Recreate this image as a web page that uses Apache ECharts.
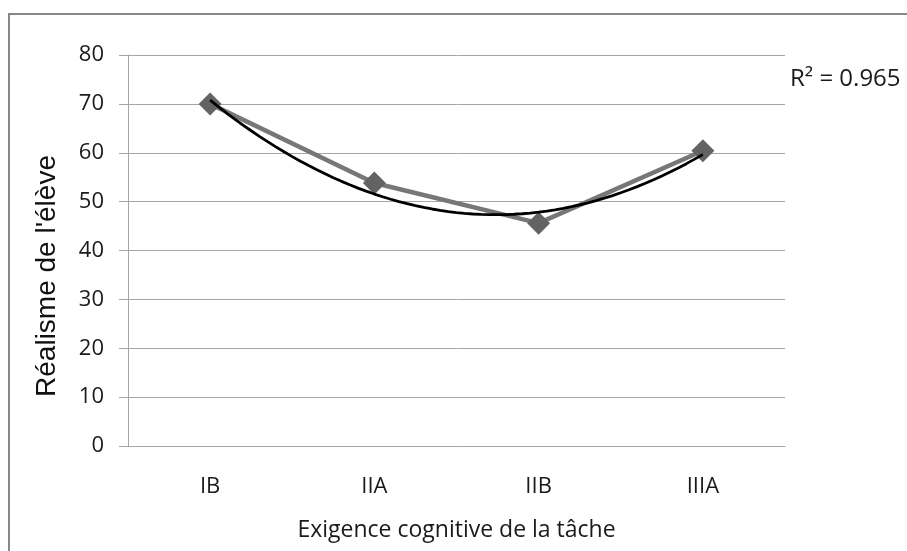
<!DOCTYPE html>
<html>
<head>
<meta charset="utf-8">
<script src="https://cdn.jsdelivr.net/npm/echarts@6/dist/echarts.min.js"></script>
<style>
  html, body { margin: 0; padding: 0; background: #fff; }
  #chart { width: 907px; height: 551px; }
</style>
</head>
<body>
<div id="chart"></div>
<script>
// Task levels and the pupil's realism score at each level
const categories = ['IB', 'IIA', 'IIB', 'IIIA'];
const realism = [70.0, 53.8, 45.6, 60.4];
const yTicks = [0, 10, 20, 30, 40, 50, 60, 70, 80];

// Second-order polynomial least-squares fit of the realism scores (x = 1..n)
function quadFit(ys) {
  const n = ys.length;
  let s = [0, 0, 0, 0, 0], t = [0, 0, 0];
  for (let i = 0; i < n; i++) {
    const x = i + 1, y = ys[i];
    for (let k = 0; k < 5; k++) s[k] += Math.pow(x, k);
    for (let k = 0; k < 3; k++) t[k] += y * Math.pow(x, k);
  }
  const M = [[s[0], s[1], s[2], t[0]], [s[1], s[2], s[3], t[1]], [s[2], s[3], s[4], t[2]]];
  for (let c = 0; c < 3; c++) {
    for (let r = c + 1; r < 3; r++) {
      const f = M[r][c] / M[c][c];
      for (let k = c; k < 4; k++) M[r][k] -= f * M[c][k];
    }
  }
  const b = [0, 0, 0];
  for (let r = 2; r >= 0; r--) {
    let v = M[r][3];
    for (let k = r + 1; k < 3; k++) v -= M[r][k] * b[k];
    b[r] = v / M[r][r];
  }
  return b;
}
const coef = quadFit(realism);
const fitAt = x => coef[0] + coef[1] * x + coef[2] * x * x;
const mean = realism.reduce((a, v) => a + v, 0) / realism.length;
let ssRes = 0, ssTot = 0;
realism.forEach((v, i) => { ssRes += Math.pow(v - fitAt(i + 1), 2); ssTot += Math.pow(v - mean, 2); });
const r2 = 1 - ssRes / ssTot;

// Trend curve sampled along the hidden value axis (category i sits at i + 0.5)
const trend = [];
for (let k = 0; k <= 60; k++) {
  const x = 1 + 3 * k / 60;
  trend.push([x - 0.5, fitAt(x)]);
}
const points = realism.map((v, i) => [i + 0.5, v]);

const gridColor = '#a6a6a6';
const textColor = '#1a1a1a';
const labelFont = "'Open Sans', 'Noto Sans', sans-serif";

const chart = echarts.init(document.getElementById('chart'), null, { renderer: 'canvas' });
chart.setOption({
  animation: false,
  backgroundColor: '#ffffff',
  grid: { left: 128, right: 122, top: 55, bottom: 105, containLabel: false },
  xAxis: [
    {
      type: 'category',
      data: categories,
      boundaryGap: true,
      position: 'bottom',
      axisLine: { show: true, lineStyle: { color: gridColor, width: 1 } },
      axisTick: { show: false },
      axisLabel: { color: textColor, fontFamily: labelFont, fontSize: 22, margin: 30 },
      name: 'Exigence cognitive de la tâche',
      nameLocation: 'middle',
      nameGap: 73,
      nameTextStyle: { color: textColor, fontFamily: labelFont, fontSize: 23 }
    },
    {
      type: 'value',
      min: 0,
      max: 4,
      show: false
    }
  ],
  yAxis: {
    type: 'value',
    min: 0,
    max: 80,
    interval: 10,
    axisLine: { show: true, lineStyle: { color: gridColor, width: 1 } },
    axisTick: { show: true, length: 9, lineStyle: { color: gridColor, width: 1 } },
    axisLabel: {
      color: textColor, fontFamily: labelFont, fontSize: 22, margin: 24,
      formatter: v => (yTicks.includes(v) ? String(v) : '')
    },
    splitLine: { show: true, lineStyle: { color: gridColor, width: 1 } }
  },
  graphic: [
    {
      type: 'rect',
      shape: { x: 9, y: 14, width: 1000, height: 1000 },
      style: { fill: 'none', stroke: '#878787', lineWidth: 2 },
      silent: true
    },
    {
      type: 'text',
      x: 47,
      y: 276,
      rotation: Math.PI / 2,
      style: {
        text: "Réalisme de l'élève",
        fill: '#111',
        font: "28px 'Liberation Sans', Arial, sans-serif",
        align: 'center',
        verticalAlign: 'middle'
      }
    },
    {
      type: 'text',
      x: 790,
      y: 79,
      style: {
        text: 'R² = ' + r2.toFixed(3),
        fill: textColor,
        font: "24px 'Open Sans', 'Noto Sans', sans-serif",
        align: 'left',
        verticalAlign: 'middle'
      }
    }
  ],
  series: [
    {
      name: 'Réalisme',
      type: 'line',
      xAxisIndex: 1,
      data: points,
      lineStyle: { color: '#777777', width: 4.5 },
      symbol: 'diamond',
      symbolSize: 23,
      itemStyle: { color: '#636363' },
      z: 2
    },
    {
      name: 'Tendance',
      type: 'line',
      xAxisIndex: 1,
      data: trend,
      showSymbol: false,
      symbol: 'none',
      lineStyle: { color: '#000000', width: 2.8 },
      z: 3
    }
  ]
});
</script>
</body>
</html>
